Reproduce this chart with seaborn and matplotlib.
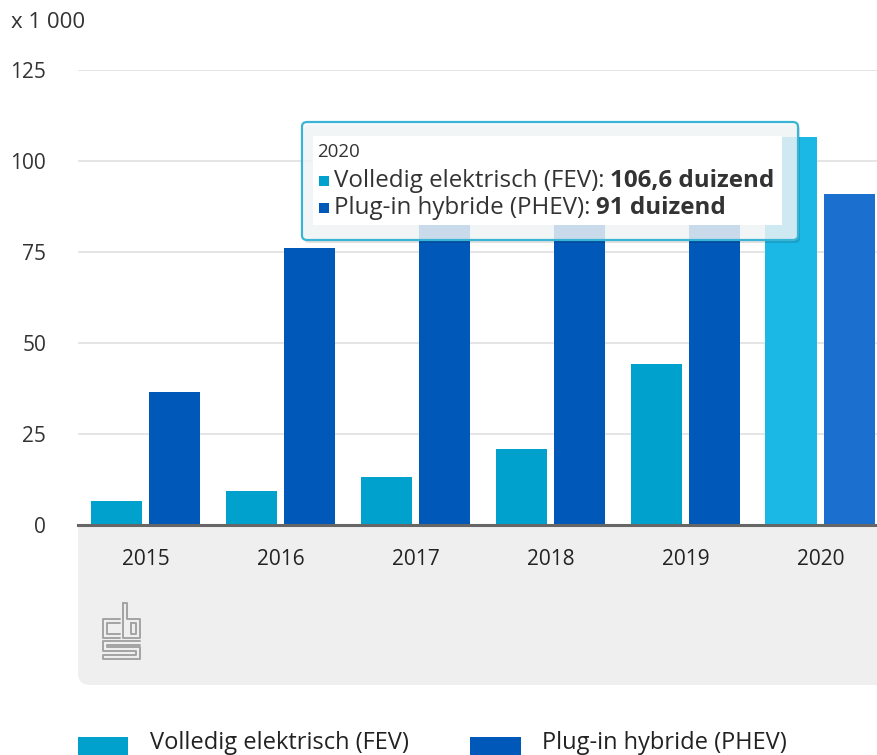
import pandas as pd
import matplotlib.pyplot as plt
import seaborn as sns
from matplotlib.patches import FancyBboxPatch, Rectangle
from matplotlib.lines import Line2D

# data (x 1 000 vehicles)
jaren = ['2015', '2016', '2017', '2018', '2019', '2020']
fev = [6.6, 9.3, 13.2, 20.9, 44.2, 106.6]
phev = [36.5, 76.1, 97.8, 97.7, 88.0, 91.0]
reeksen = ['Volledig elektrisch (FEV)', 'Plug-in hybride (PHEV)']
kleuren = ['#00a1cd', '#0058b8']
kleuren_hover = ['#1bb8e6', '#1b6fcf']

df = pd.DataFrame({
    'jaar': jaren * 2,
    'waarde': fev + phev,
    'reeks': [reeksen[0]] * len(jaren) + [reeksen[1]] * len(jaren),
})

W, H = 877, 755


def px(x, y):
    return x / W, 1 - y / H


sns.set_style('white')
plt.rcParams['font.family'] = ['Open Sans', 'DejaVu Sans']

fig = plt.figure(figsize=(W / 100, H / 100), dpi=100)
ax = fig.add_axes([78 / W, 1 - 525 / H, 1 - 78 / W, (525 - 70) / H])

sns.barplot(data=df, x='jaar', y='waarde', hue='reeks', palette=kleuren,
            width=0.86, gap=0.11, ax=ax, legend=False, saturation=1,
            linewidth=0, zorder=3)

# highlight hovered year
for i, cont in enumerate(ax.containers):
    cont[len(jaren) - 1].set_facecolor(kleuren_hover[i])

ax.set_ylim(0, 125)
ax.set_xlim(-0.5, 5.42)
ax.set_yticks([0, 25, 50, 75, 100, 125])
ax.yaxis.grid(True, color='#e3e3e3', linewidth=1.3, zorder=0)
ax.set_axisbelow(True)
for s in ['top', 'right', 'left']:
    ax.spines[s].set_visible(False)
ax.spines['bottom'].set_color('#666666')
ax.spines['bottom'].set_linewidth(2.2)
ax.spines['bottom'].set_zorder(5)
ax.set_xlabel('')
ax.set_ylabel('')
ax.tick_params(axis='y', length=0, pad=23, labelsize=15, labelcolor='#333333')
ax.tick_params(axis='x', length=0, pad=17, labelsize=15, labelcolor='#222222')

fig.text(*px(11, 22), 'x 1 000', fontsize=16, color='#333333', va='center', ha='left')

# grey footer panel
x0, y0 = px(78, 685)
x1, y1 = px(900, 490)
panel = FancyBboxPatch((x0, y0), x1 - x0, y1 - y0, transform=fig.transFigure,
                       boxstyle='round,pad=0,rounding_size=0.015',
                       facecolor='#efefef', edgecolor='none', zorder=-1)
fig.add_artist(panel)

# cbs logo (approximation, double stroke)
logo = [
    [(120, 619), (103, 619), (103, 638), (120, 638)],
    [(120, 623), (107, 623), (107, 634), (120, 634)],
    [(123, 603), (123, 638), (140, 638), (140, 619), (127, 619), (127, 603), (123, 603)],
    [(131, 623), (136, 623), (136, 634), (131, 634), (131, 623)],
    [(140, 641), (103, 641), (103, 651), (136, 651), (136, 655), (103, 655), (103, 659), (140, 659), (140, 647), (107, 647), (107, 645), (140, 645)],
]
for pts in logo:
    xs = [p[0] / W for p in pts]
    ys = [1 - p[1] / H for p in pts]
    fig.add_artist(Line2D(xs, ys, color='#a3a3a3', linewidth=1.4,
                          transform=fig.transFigure))

# tooltip
tx0, ty0 = px(302, 240)
tx1, ty1 = px(798, 122)
shadow = FancyBboxPatch((tx0 + 2 / W, ty0 - 3 / H), tx1 - tx0, ty1 - ty0,
                        transform=fig.transFigure,
                        boxstyle='round,pad=0,rounding_size=0.006',
                        facecolor=(0, 0, 0, 0.12), edgecolor='none', zorder=9)
fig.add_artist(shadow)
tip = FancyBboxPatch((tx0, ty0), tx1 - tx0, ty1 - ty0, transform=fig.transFigure,
                     boxstyle='round,pad=0,rounding_size=0.006',
                     facecolor=(0.97, 0.98, 0.99, 0.82), edgecolor='#3ab4d4',
                     linewidth=1.6, zorder=10)
fig.add_artist(tip)
ix0, iy0 = px(313, 225)
ix1, iy1 = px(782, 136)
fig.add_artist(Rectangle((ix0, iy0), ix1 - ix0, iy1 - iy0, transform=fig.transFigure,
                         facecolor='white', edgecolor='none', zorder=11))
fig.text(*px(317, 152), '2020', fontsize=13.5, color='#333333', va='center', zorder=12)
regels = [(f'{fev[-1]:.1f}'.replace('.', ','), 181), (f'{phev[-1]:.0f}', 208)]
for i, (val, yy) in enumerate(regels):
    fig.add_artist(Rectangle(px(319, yy + 5), 10 / W, 10 / H, transform=fig.transFigure,
                             facecolor=kleuren[i], edgecolor='none', zorder=12))
    t = fig.text(*px(334, yy), reeksen[i] + ':', fontsize=17.4, color='#333333',
                 va='center', zorder=12)
    fig.canvas.draw()
    bb = t.get_window_extent()
    fig.text((bb.x1 + 6) / W, 1 - yy / H, val + ' duizend', fontsize=17.4,
             fontweight='bold', color='#333333', va='center', zorder=12)

# legend
leg = [(78, 128, 150), (470, 521, 542)]
for i, (sx0, sx1, tx) in enumerate(leg):
    fig.add_artist(Rectangle(px(sx0, 756), (sx1 - sx0) / W, 19 / H,
                             transform=fig.transFigure, facecolor=kleuren[i],
                             edgecolor='none'))
    fig.text(*px(tx, 743), reeksen[i], fontsize=17, color='#222222', va='center')

fig.savefig('out.png', dpi=100)
